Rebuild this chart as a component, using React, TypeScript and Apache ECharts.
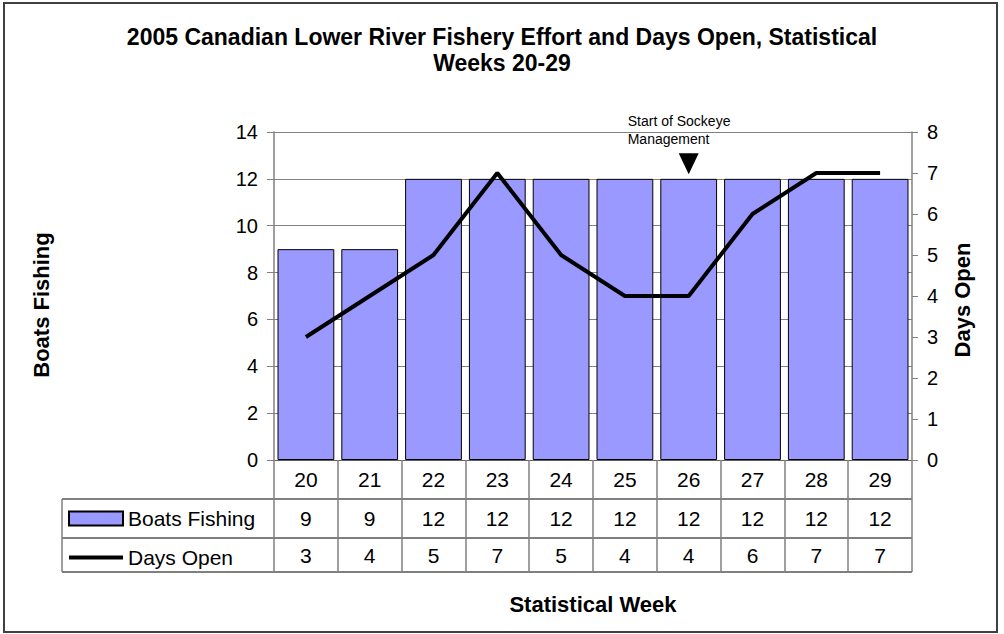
import React, { useEffect, useRef } from "react";
import * as echarts from "echarts";

const categories = ["20", "21", "22", "23", "24", "25", "26", "27", "28", "29"];
const boatsFishing = [9, 9, 12, 12, 12, 12, 12, 12, 12, 12];
const daysOpen = [3, 4, 5, 7, 5, 4, 4, 6, 7, 7];
const annotationWeek = "26";
const annotationText = "Start of Sockeye\nManagement";

const FONT = "'Liberation Sans', Arial, sans-serif";
const W = 1004;
const H = 634;
const GRID = { left: 274, right: 92, top: 132, bottom: 174 };

export default function App() {
  const ref = useRef<HTMLDivElement>(null);
  useEffect(() => {
    if (!ref.current) return;
    const chart = echarts.init(ref.current, null, { renderer: "svg" });
    const plotRight = W - GRID.right;
    const plotBottom = H - GRID.bottom;
    const tableLeft = 62;
    const row2 = plotBottom + 39;
    const row3 = plotBottom + 78;
    const tableBottom = plotBottom + 112;
    chart.setOption({
      animation: false,
      textStyle: { fontFamily: FONT },
      title: {
        text: "2005 Canadian Lower River Fishery Effort and Days Open, Statistical\nWeeks 20-29",
        left: "center",
        top: 19,
        textStyle: { fontFamily: FONT, fontSize: 23, fontWeight: "bold", color: "#000", lineHeight: 26 },
      },
      legend: {
        orient: "vertical",
        left: 63,
        top: plotBottom + 43,
        itemWidth: 54,
        itemHeight: 14,
        itemGap: 18,
        selectedMode: false,
        textStyle: { fontFamily: FONT, fontSize: 21, color: "#000" },
        data: [
          { name: "Boats Fishing", icon: "rect" },
          {
            name: "Days Open",
            icon: "path://M0,5L54,5L54,9L0,9Z",
            itemStyle: { color: "#000", borderWidth: 0 },
          },
        ],
      },
      grid: { ...GRID, containLabel: false },
      xAxis: {
        type: "category",
        data: categories,
        boundaryGap: true,
        name: "Statistical Week",
        nameLocation: "middle",
        nameGap: 133,
        nameTextStyle: { fontFamily: FONT, fontSize: 22, fontWeight: "bold", color: "#000" },
        axisLine: { lineStyle: { color: "#606060", width: 1 } },
        axisTick: { show: true, interval: 0, length: 112, lineStyle: { color: "#808080", width: 1.5 } },
        axisLabel: {
          interval: 0,
          margin: 0,
          color: "#000",
          formatter: (value: string, idx: number) =>
            `{a|${value}}\n{b|${boatsFishing[idx]}}\n{c|${daysOpen[idx]}}`,
          rich: {
            a: { fontFamily: FONT, fontSize: 21, lineHeight: 39, color: "#000" },
            b: { fontFamily: FONT, fontSize: 21, lineHeight: 39, color: "#000" },
            c: { fontFamily: FONT, fontSize: 21, lineHeight: 35, color: "#000" },
          },
        },
      },
      yAxis: [
        {
          type: "value",
          min: 0,
          max: 14,
          interval: 2,
          axisLine: { show: true, lineStyle: { color: "#808080", width: 1.5 } },
          axisTick: { show: true, length: 7, lineStyle: { color: "#808080" } },
          axisLabel: { margin: 16, fontFamily: FONT, fontSize: 20, color: "#000" },
          splitLine: { show: true, lineStyle: { color: "#808080", width: 1 } },
        },
        {
          type: "value",
          min: 0,
          max: 8,
          interval: 1,
          position: "right",
          axisLine: { show: true, lineStyle: { color: "#808080", width: 1.5 } },
          axisTick: { show: true, length: 6, lineStyle: { color: "#808080" } },
          axisLabel: { margin: 15, fontFamily: FONT, fontSize: 20, color: "#000" },
          splitLine: { show: false },
        },
      ],
      series: [
        {
          name: "Boats Fishing",
          type: "bar",
          data: boatsFishing,
          barCategoryGap: "11%",
          itemStyle: { color: "#9999FF", borderColor: "#000", borderWidth: 1 },
          markPoint: {
            symbol: "path://M0,0L20,0L10,21Z",
            symbolSize: [20, 21],
            symbolOffset: [0, -15],
            itemStyle: { color: "#000" },
            label: {
              show: true,
              formatter: annotationText,
              position: "top",
              distance: 5,
              align: "left",
              offset: [-61, 0],
              fontFamily: FONT,
              fontSize: 14,
              lineHeight: 18,
              color: "#000",
            },
            data: [{ coord: [annotationWeek, 12] }],
          },
        },
        {
          name: "Days Open",
          type: "line",
          yAxisIndex: 1,
          data: daysOpen,
          symbol: "none",
          lineStyle: { color: "#000", width: 4 },
          itemStyle: { color: "#000" },
        },
      ],
      graphic: [
        {
          type: "rect",
          shape: { x: 4, y: 3, width: 993, height: 629 },
          style: { fill: "none", stroke: "#404040", lineWidth: 2 },
          silent: true,
        },
        {
          type: "line",
          shape: { x1: tableLeft, y1: row2, x2: plotRight, y2: row2 },
          style: { stroke: "#000", lineWidth: 1 },
        },
        {
          type: "line",
          shape: { x1: tableLeft, y1: row3, x2: plotRight, y2: row3 },
          style: { stroke: "#000", lineWidth: 1 },
        },
        {
          type: "line",
          shape: { x1: tableLeft, y1: tableBottom, x2: plotRight, y2: tableBottom },
          style: { stroke: "#000", lineWidth: 1 },
        },
        {
          type: "line",
          shape: { x1: tableLeft, y1: row2, x2: tableLeft, y2: tableBottom },
          style: { stroke: "#808080", lineWidth: 1.5 },
        },
        {
          type: "text",
          x: 41,
          y: 305,
          rotation: Math.PI / 2,
          style: {
            text: "Boats Fishing",
            fontFamily: FONT,
            fontSize: 22,
            fontWeight: "bold",
            fill: "#000",
            align: "center",
            verticalAlign: "middle",
          },
        },
        {
          type: "text",
          x: 962,
          y: 300,
          rotation: Math.PI / 2,
          style: {
            text: "Days Open",
            fontFamily: FONT,
            fontSize: 22,
            fontWeight: "bold",
            fill: "#000",
            align: "center",
            verticalAlign: "middle",
          },
        },
      ],
    });
    return () => chart.dispose();
  }, []);
  return (
    <div
      ref={ref}
      style={{ position: "fixed", left: 0, top: 0, width: W, height: H, background: "#fff" }}
    />
  );
}
